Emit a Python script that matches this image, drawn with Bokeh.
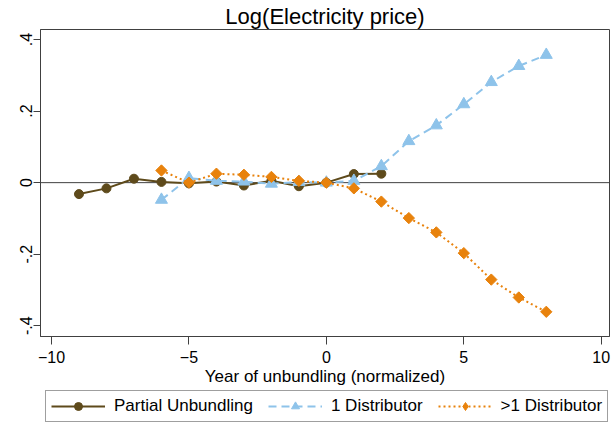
import numpy as np
from bokeh.plotting import figure
from bokeh.layouts import column
from bokeh.models import Range1d, FixedTicker, Span, Legend, LegendItem
from bokeh.embed import file_html
from bokeh.resources import INLINE

# ---- data ----
years_partial = [-9, -8, -7, -6, -5, -4, -3, -2, -1, 0, 1, 2]
partial = [-0.032, -0.016, 0.011, 0.002, -0.002, 0.003, -0.008, 0.005, -0.010, 0.0, 0.024, 0.025]

years_one = [-6, -5, -4, -3, -2, -1, 0, 1, 2, 3, 4, 5, 6, 7, 8]
one_dist = [-0.048, 0.013, 0.005, 0.003, -0.003, 0.002, 0.0, 0.005, 0.046, 0.116, 0.160, 0.219, 0.281, 0.326, 0.357]

years_multi = [-6, -5, -4, -3, -2, -1, 0, 1, 2, 3, 4, 5, 6, 7, 8]
multi_dist = [0.034, 0.0, 0.025, 0.022, 0.016, 0.005, 0.0, -0.016, -0.053, -0.099, -0.139, -0.197, -0.271, -0.321, -0.361]

x_ticks = [-10, -5, 0, 5, 10]
y_ticks = [-0.4, -0.2, 0.0, 0.2, 0.4]
y_tick_labels = ["-.4", "-.2", "0", ".2", ".4"]

title = "Log(Electricity price)"
x_title = "Year of unbundling (normalized)"
labels = ["Partial Unbundling", "1 Distributor", ">1 Distributor"]

BROWN = "#5E4A1B"
BLUE = "#8EC3EA"
ORANGE = "#E8820C"
FRAME = "#404040"
FONT = "Liberation Sans"

p = figure(width=615, height=388, output_backend="svg", toolbar_location=None,
           x_range=Range1d(-10.4, 10.3), y_range=Range1d(-0.43, 0.428),
           min_border_left=40, min_border_right=6, min_border_top=0, min_border_bottom=52)

p.title.text = title
p.title.align = "center"
p.title.text_font = FONT
p.title.text_font_size = "22px"
p.title.text_font_style = "normal"
p.title.text_color = "#000000"
p.title.standoff = 2

p.xgrid.visible = False
p.ygrid.visible = False
p.outline_line_color = FRAME
p.outline_line_width = 1

for ax in (p.xaxis[0], p.yaxis[0]):
    ax.axis_line_color = FRAME
    ax.major_tick_line_color = FRAME
    ax.minor_tick_line_color = None
    ax.major_tick_in = 0
    ax.major_label_text_font = FONT
    ax.major_label_text_font_size = "16px"
    ax.major_label_text_color = "#000000"

p.xaxis.ticker = FixedTicker(ticks=x_ticks)
p.xaxis.major_tick_out = 8
p.xaxis.major_label_standoff = 6
p.xaxis.axis_label = x_title
p.xaxis.axis_label_text_font = FONT
p.xaxis.axis_label_text_font_size = "17px"
p.xaxis.axis_label_text_font_style = "normal"
p.xaxis.axis_label_text_color = "#000000"
p.xaxis.axis_label_standoff = 1

p.yaxis.ticker = FixedTicker(ticks=y_ticks)
p.yaxis.major_label_overrides = {t: l for t, l in zip(y_ticks, y_tick_labels)}
p.yaxis.major_label_orientation = "vertical"
p.yaxis.major_tick_out = 7
p.yaxis.major_label_standoff = 1

zero = Span(location=0, dimension="width", line_color=FRAME, line_width=1, level="underlay")
p.add_layout(zero)

line_styles = [dict(line_color=BROWN, line_width=2),
               dict(line_color=BLUE, line_width=2, line_dash="8 5"),
               dict(line_color=ORANGE, line_width=2, line_dash="2 3")]
marker_styles = [dict(marker="circle", size=9, fill_color=BROWN, line_color=BROWN),
                 dict(marker="triangle", size=12, fill_color=BLUE, line_color=BLUE),
                 dict(marker="square", size=8, angle=np.pi / 4, fill_color=ORANGE, line_color=ORANGE)]
legend_marker_styles = [marker_styles[0], marker_styles[1],
                        dict(marker="diamond", size=14, fill_color=ORANGE, line_color=ORANGE)]

for xs, ys, ls, ms in zip([years_partial, years_one, years_multi],
                          [partial, one_dist, multi_dist], line_styles, marker_styles):
    p.line(xs, ys, **ls)
    p.scatter(xs, ys, **ms)

# ---- legend strip below ----
pl = figure(width=615, height=37, output_backend="svg", toolbar_location=None,
            x_range=Range1d(0, 1), y_range=Range1d(0, 1),
            x_axis_location=None, y_axis_location=None,
            min_border_left=0, min_border_right=0, min_border_top=0, min_border_bottom=0)
pl.xgrid.visible = False
pl.ygrid.visible = False
pl.outline_line_color = None

items = []
for lab, ls, ms in zip(labels, line_styles, legend_marker_styles):
    # off-range placeholder glyphs, only used to draw the legend swatches
    lr = pl.line([-5, -4], [-5, -5], **ls)
    sr = pl.scatter([-5], [-5], **ms)
    items.append(LegendItem(label=lab, renderers=[lr, sr]))

legend = Legend(items=items, orientation="horizontal", location=(5, 3))
legend.label_text_font = FONT
legend.label_text_font_size = "17px"
legend.label_text_color = "#000000"
legend.glyph_width = 54
legend.glyph_height = 20
legend.label_standoff = 9
legend.spacing = 15
legend.padding = 5
legend.margin = 0
legend.border_line_color = FRAME
legend.border_line_width = 1
legend.background_fill_alpha = 1.0
pl.add_layout(legend)

layout = column(p, pl)
open("out.html", "w").write(file_html(layout, INLINE))
